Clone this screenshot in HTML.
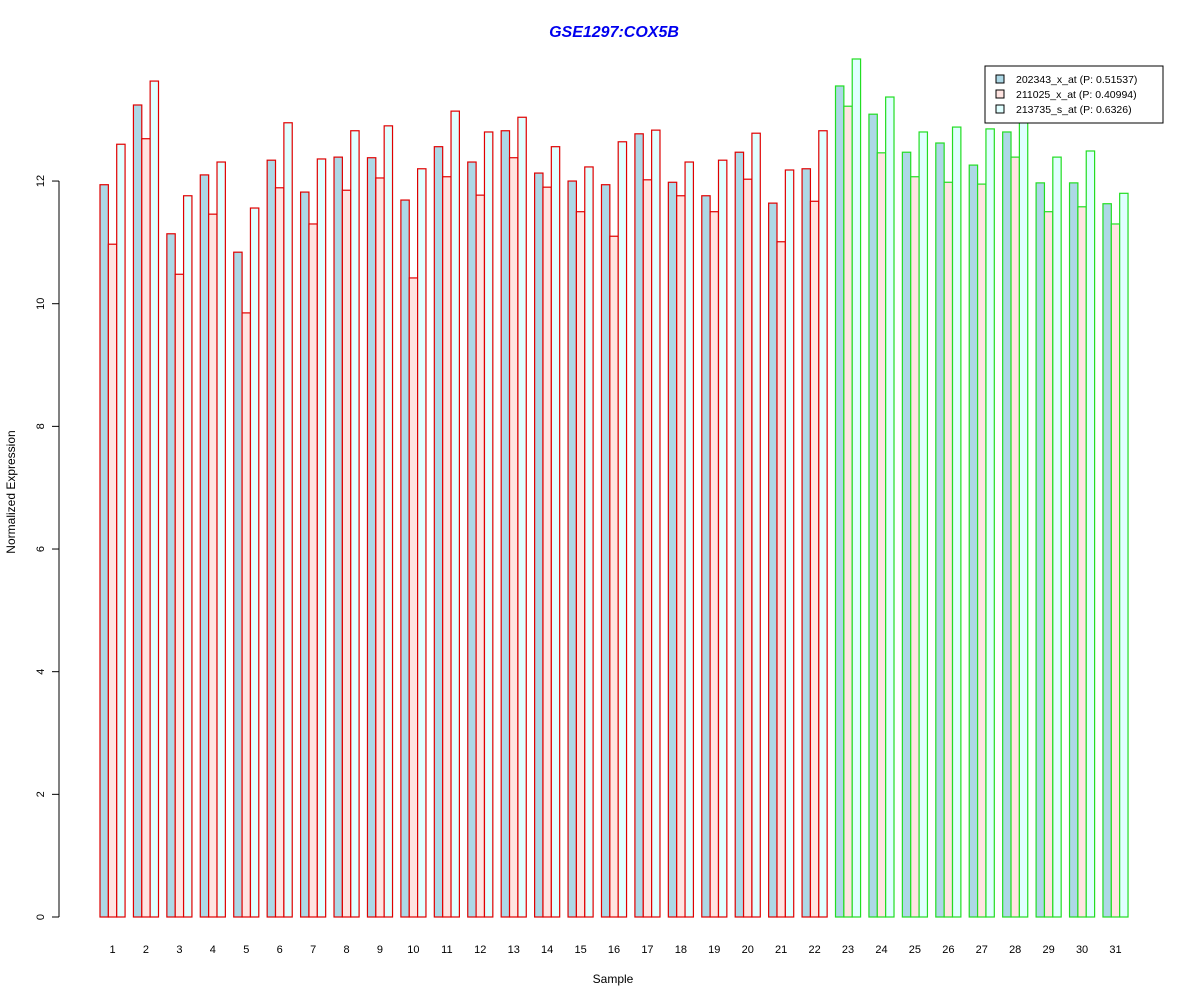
<!DOCTYPE html>
<html><head><meta charset="utf-8"><style>body{margin:0;background:#fff}svg{display:block}text{font-family:"Liberation Sans",sans-serif}</style></head>
<body>
<svg id="chart" width="1200" height="1000" xmlns="http://www.w3.org/2000/svg">
<rect width="1200" height="1000" fill="#fff"/>
<text x="614" y="37" text-anchor="middle" font-size="16" font-weight="bold" font-style="italic" fill="#0000ee">GSE1297:COX5B</text>
<text x="613" y="983" text-anchor="middle" font-size="12">Sample</text>
<text transform="translate(15,492) rotate(-90)" text-anchor="middle" font-size="12">Normalized Expression</text>
<g id="yaxis"></g>
<g id="bars"></g>
<g id="xlabels"></g>
<g>
<rect x="985" y="66" width="178" height="57" fill="#fff" stroke="#000"/>
<rect x="996" y="75" width="8" height="8" fill="#add8e6" stroke="#000"/>
<text x="1016" y="83" font-size="10.5">202343_x_at (P: 0.51537)</text>
<rect x="996" y="90" width="8" height="8" fill="#ffe4e1" stroke="#000"/>
<text x="1016" y="98" font-size="10.5">211025_x_at (P: 0.40994)</text>
<rect x="996" y="105" width="8" height="8" fill="#e0ffff" stroke="#000"/>
<text x="1016" y="113" font-size="10.5">213735_s_at (P: 0.6326)</text>
</g>
</svg>
<script>
const samples = ["1","2","3","4","5","6","7","8","9","10","11","12","13","14","15","16","17","18","19","20","21","22","23","24","25","26","27","28","29","30","31"];
const s202343 = [11.94,13.24,11.14,12.10,10.84,12.34,11.82,12.39,12.38,11.69,12.56,12.31,12.82,12.13,12.00,11.94,12.77,11.98,11.76,12.47,11.64,12.20,13.55,13.09,12.47,12.62,12.26,12.80,11.97,11.97,11.63];
const s211025 = [10.97,12.69,10.48,11.46,9.85,11.89,11.30,11.85,12.05,10.42,12.07,11.77,12.38,11.90,11.50,11.10,12.02,11.76,11.50,12.03,11.01,11.67,13.22,12.46,12.07,11.98,11.95,12.39,11.50,11.58,11.30];
const s213735 = [12.60,13.63,11.76,12.31,11.56,12.95,12.36,12.82,12.90,12.20,13.14,12.80,13.04,12.56,12.23,12.64,12.83,12.31,12.34,12.78,12.18,12.82,13.99,13.37,12.80,12.88,12.85,12.97,12.39,12.49,11.80];
const groupA = 22;
const yTicks = [0,2,4,6,8,10,12];
const NS="http://www.w3.org/2000/svg";
const y = v => 917 - v*61.33;
const bw = 8.358, x0 = 91.64;
const gx = i => x0 + i*4*bw + bw;
function el(t,a,p){const e=document.createElementNS(NS,t);for(const k in a)e.setAttribute(k,a[k]);p.appendChild(e);return e;}
const ya=document.getElementById('yaxis');
el('line',{x1:59,x2:59,y1:y(0),y2:y(12),stroke:'#000'},ya);
yTicks.forEach(t=>{
  const l=el('line',{x1:52,x2:59,y1:y(t),y2:y(t),stroke:'#000'},ya);
  
  
  const tx=el('text',{x:0,y:0,'font-size':11,'text-anchor':'middle',transform:`translate(44,${y(t)}) rotate(-90)`},ya);
  
  
  tx.textContent=t;
});
const bars=document.getElementById('bars'), xl=document.getElementById('xlabels');
const series=[s202343,s211025,s213735], fills=['#add8e6','#ffe4e1','#e0ffff'];
samples.forEach((s,i)=>{
  const stroke = i<groupA ? '#e00000' : '#22dd22';
  series.forEach((ser,j)=>{
    const v=ser[i];
    const r=el('rect',{x:gx(i)+j*bw,y:y(v),width:bw,height:y(0)-y(v),fill:fills[j],stroke:stroke,'stroke-width':1.2},bars);
    
    
  });
  const t=el('text',{x:gx(i)+1.5*bw,y:953,'font-size':11,'text-anchor':'middle'},xl);
  
  
  t.textContent=s;
});
</script>
</body></html>
